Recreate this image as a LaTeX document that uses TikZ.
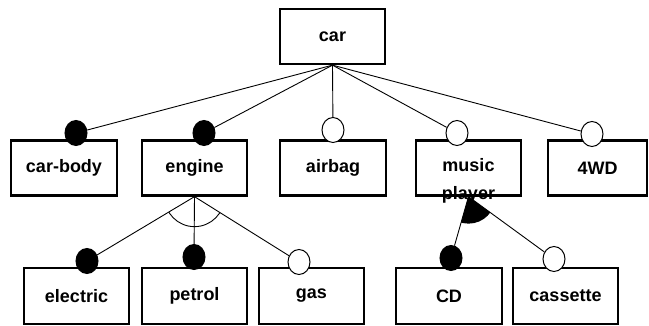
\documentclass[tikz,border=0pt]{standalone}
\usepackage{fontspec}
\setmainfont{Liberation Sans}
\usetikzlibrary{calc,shapes.geometric}
\begin{document}
\begin{tikzpicture}[x=1pt,y=-1pt,
  labelfont/.style={font=\fontsize{18}{28}\selectfont\bfseries},
  feature/.style={draw,line width=2.3pt,minimum width=105.5pt,minimum height=55pt,inner sep=0pt,labelfont},
  mand/.style={ellipse,draw,fill=black,line width=1pt,minimum width=22pt,minimum height=25pt,inner sep=0pt},
  opt/.style={mand,fill=white},
  link/.style={line width=0.9pt}]
\useasboundingbox (0,0) rectangle (649,326);

% root
\node[feature] (car) at (332.5,36.5) {car};

% first level features
\node[feature] (body)   at (64,168)    {car-body};
\node[feature] (engine) at (194.5,168) {engine};
\node[feature] (airbag) at (333,168)   {airbag};
\node[feature] (music)  at (468.5,168) {};
\node[labelfont,align=center,inner sep=0pt] (musictxt) at (468.5,181) {music\\player};
\node[feature,minimum width=99pt] (wd) at (597.5,168) {4WD};

% second level features
\node[feature,minimum height=56pt] (electric) at (76.5,296)  {electric};
\node[feature,minimum height=56pt] (petrol)   at (194.5,296) {petrol};
\node[feature,minimum height=56pt] (gas)      at (311.5,296) {gas};
\node[feature,minimum height=56pt] (cdbox)    at (449,296)   {CD};
\node[feature,minimum height=56pt] (cassette) at (565.5,296) {cassette};

% mandatory / optional markers
\node[mand] (mbody)   at (76,133)  {};
\node[mand] (mengine) at (204,133) {};
\node[opt]  (oairbag) at (333,130) {};
\node[opt]  (omusic)  at (457,133) {};
\node[opt]  (owd)     at (592,134) {};
\node[mand] (melec)   at (87,261)  {};
\node[mand] (mpetrol) at (194,257) {};
\node[opt]  (ogas)    at (299,262) {};
\node[mand] (mcd)     at (451,258) {};
\node[opt]  (ocass)   at (554,259) {};

% connectors from the root
\foreach \m in {mbody,mengine,oairbag,omusic,owd}
  \draw[link] (car.south) -- (\m);

% engine alternatives
\foreach \m in {melec,mpetrol,ogas}
  \draw[link] (engine.south) -- (\m);
\begin{scope}
  \clip (engine.south) -- ($(engine.south)!5!(melec)$) -- ($(engine.south)!5!(ogas)$) -- cycle;
  \draw[link] (engine.south) circle (30pt);
\end{scope}

% music player options
\foreach \m in {mcd,ocass}
  \draw[link] (music.south) -- (\m);
\begin{scope}
  \clip (music.south) -- ($(music.south)!5!(mcd)$) -- ($(music.south)!5!(ocass)$) -- cycle;
  \fill (music.south) circle (27pt);
\end{scope}
\end{tikzpicture}
\end{document}
